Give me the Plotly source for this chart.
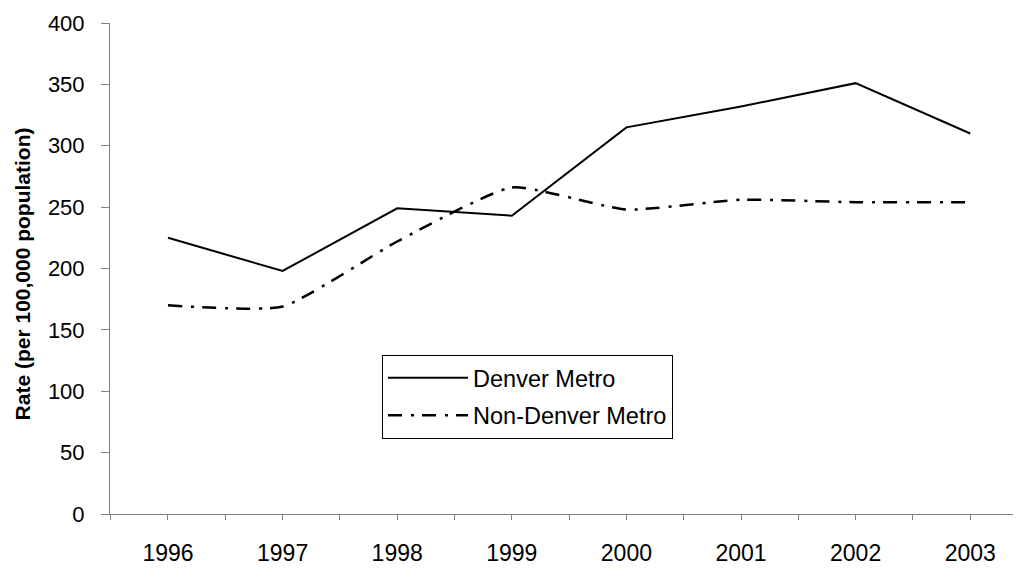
import plotly.graph_objects as go

years = [1996, 1997, 1998, 1999, 2000, 2001, 2002, 2003]
denver_metro = [225, 198, 249, 243, 315, 332, 351, 310]
non_denver_metro = [170, 169, 222, 266, 248, 256, 254, 254]

y_ticks = [0, 50, 100, 150, 200, 250, 300, 350, 400]

FONT = "Arial, Liberation Sans, sans-serif"
AXIS_GREY = "#808080"

# the page body adds an 8px offset, so the figure is a bit smaller than the window
fig = go.Figure()
fig.add_trace(go.Scatter(
    x=years, y=denver_metro, name="Denver Metro", mode="lines",
    legendgroup="d", line=dict(color="black", width=2)))
fig.add_trace(go.Scatter(
    x=years, y=non_denver_metro, name="Non-Denver Metro", mode="lines",
    legendgroup="n",
    line=dict(color="black", width=2.5, dash="14px,9px,3px,8px",
              shape="spline", smoothing=0.5)))

fig.update_layout(
    width=1013, height=561,
    margin=dict(l=102, r=0, t=15, b=55),
    paper_bgcolor="white", plot_bgcolor="white",
    font=dict(family=FONT, color="black"),
    showlegend=True,
    legend=dict(
        x=0.2986, y=0.324, xanchor="left", yanchor="top",
        bgcolor="white", bordercolor="black", borderwidth=1,
        font=dict(size=23.5, family=FONT), itemwidth=80,
        tracegroupgap=4),
    xaxis=dict(
        range=[1995.494, 2003.443], tickmode="array", tickvals=years,
        ticktext=[str(y) for y in years],
        showgrid=False, zeroline=False,
        showline=True, linecolor=AXIS_GREY, linewidth=1,
        ticks="outside", ticklen=5, tickcolor=AXIS_GREY,
        tickfont=dict(size=23), ticklabelstandoff=13, automargin=False,
        minor=dict(ticks="outside", ticklen=5, tickcolor=AXIS_GREY,
                   tick0=1995.5, dtick=1, showgrid=False)),
    yaxis=dict(
        range=[0, 400], tickvals=y_ticks,
        showgrid=False, zeroline=False,
        showline=True, linecolor=AXIS_GREY, linewidth=1,
        ticks="outside", ticklen=8, tickcolor=AXIS_GREY,
        tickfont=dict(size=22), ticklabelstandoff=12, automargin=False),
)

fig.add_annotation(
    text="<b>Rate (per 100,000 population)</b>", textangle=-90,
    xref="paper", yref="paper", x=-0.0966, y=0.49,
    xanchor="center", yanchor="middle", showarrow=False,
    font=dict(size=21, family=FONT))

fig.write_html("out.html")
